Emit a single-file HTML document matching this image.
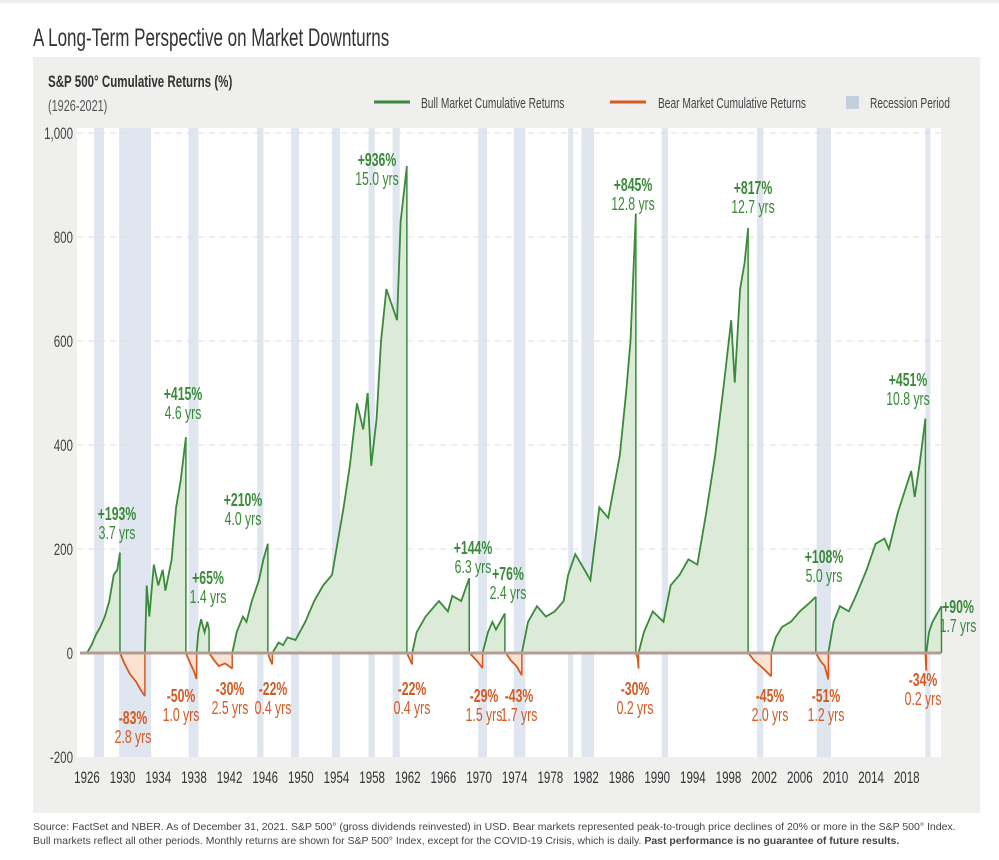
<!DOCTYPE html>
<html><head><meta charset="utf-8">
<style>
html,body{margin:0;padding:0;background:#fff;}
svg{display:block;font-family:"Liberation Sans",sans-serif;}
</style></head>
<body>
<svg id="chart" width="999" height="860" viewBox="0 0 999 860" xmlns="http://www.w3.org/2000/svg">
<rect x="0" y="0" width="999" height="3" fill="#eee"/>
<text class="c" x="33" y="46" font-size="25" fill="#333">A Long-Term Perspective on Market Downturns</text>
<rect x="33" y="57" width="947" height="756" fill="#efefed"/>
<rect x="77" y="128" width="864" height="629" fill="#fff"/>
<text class="c" x="48" y="87" font-size="17" font-weight="bold" fill="#333">S&amp;P 500° Cumulative Returns (%)</text>
<text class="c" x="48" y="111" font-size="16" fill="#555">(1926-2021)</text>
<g>
<line x1="374" y1="102" x2="410" y2="102" stroke="#3a8a3a" stroke-width="3"/>
<text class="c" x="421" y="108" font-size="15" fill="#444">Bull Market Cumulative Returns</text>
<line x1="610" y1="102" x2="646" y2="102" stroke="#d45a24" stroke-width="3"/>
<text class="c" x="658" y="108" font-size="15" fill="#444">Bear Market Cumulative Returns</text>
<rect x="846" y="96" width="13" height="13" fill="#c4cfdc"/>
<text class="c" x="870" y="108" font-size="15" fill="#444">Recession Period</text>
</g>
<g id="rec"></g><g id="grid"></g><g id="areas"></g><g id="lines"></g><g id="axes"></g><g id="labels"></g>
<text x="33" y="830" font-size="10.5" fill="#444">Source: FactSet and NBER.  As of December 31, 2021. S&amp;P 500° (gross dividends reinvested) in USD. Bear markets represented peak-to-trough price declines of 20% or more in the S&amp;P 500° Index.</text>
<text x="33" y="844" font-size="10.5" fill="#444">Bull markets reflect all other periods. Monthly returns are shown for S&amp;P 500° Index, except for the COVID-19 Crisis, which is daily. <tspan font-weight="bold">Past performance is no guarantee of future results.</tspan></text>
</svg>
<script>
const yTicks=[1000,800,600,400,200,0,-200];
const yTickLabels=["1,000","800","600","400","200","0","-200"];
const xTicks=[1926,1930,1934,1938,1942,1946,1950,1954,1958,1962,1966,1970,1974,1978,1982,1986,1990,1994,1998,2002,2006,2010,2014,2018];
const recStart=[1926.8,1929.6,1937.4,1945.1,1948.9,1953.5,1957.6,1960.3,1969.9,1973.9,1980.0,1981.5,1990.5,2001.2,2007.9,2020.1];
const recEnd=[1927.9,1933.2,1938.5,1945.8,1949.8,1954.4,1958.3,1961.1,1970.9,1975.2,1980.5,1982.9,1991.2,2001.9,2009.5,2020.4];
const bullYears=[
[1926.0,1926.5,1927.0,1927.5,1928.0,1928.5,1929.0,1929.4,1929.7],
[1932.5,1932.7,1933.0,1933.5,1934.0,1934.5,1934.8,1935.5,1936.0,1936.5,1937.1],
[1938.3,1938.5,1938.8,1939.2,1939.5,1939.7],
[1942.3,1942.8,1943.5,1943.9,1944.5,1945.3,1945.8,1946.3],
[1946.8,1947.5,1948.0,1948.5,1949.4,1950.5,1951.5,1952.5,1953.5,1954.8,1955.5,1956.3,1957.0,1957.5,1957.9,1958.5,1959.0,1959.6,1960.8,1961.2,1961.9],
[1962.5,1963.0,1964.0,1965.5,1966.5,1967.0,1968.0,1968.9],
[1970.4,1971.0,1971.5,1971.9,1972.9],
[1974.8,1975.5,1976.5,1977.5,1978.5,1979.5,1980.0,1980.8,1981.5,1982.5,1983.5,1984.5,1985.8,1986.5,1987.0,1987.6],
[1987.9,1988.5,1989.5,1990.7,1991.5,1992.5,1993.5,1994.5,1995.5,1996.5,1997.5,1998.3,1998.7,1999.3,1999.8,2000.2],
[2002.8,2003.3,2004.0,2005.0,2006.0,2007.0,2007.8],
[2009.2,2009.8,2010.5,2011.5,2012.3,2013.5,2014.5,2015.5,2016.0,2017.0,2018.5,2018.9,2019.5,2020.1],
[2020.2,2020.5,2020.9,2021.9]];
const bullValues=[
[0,15,35,50,70,100,150,160,193],
[0,130,70,170,130,160,120,180,280,330,415],
[0,40,65,40,60,45],
[0,40,70,60,100,140,180,210],
[0,20,15,30,25,60,100,130,150,280,360,480,430,500,360,450,600,700,640,830,936],
[0,40,70,100,80,110,100,144],
[0,40,60,45,76],
[0,60,90,70,80,100,150,190,170,140,280,260,380,500,600,845],
[0,40,80,60,130,150,180,170,270,380,520,640,520,700,750,817],
[0,30,50,60,80,95,108],
[0,60,90,80,110,160,210,220,200,270,350,300,370,451],
[0,40,60,90]];
const bearYears=[
[1929.7,1930.2,1930.8,1931.5,1932.0,1932.5],
[1937.1,1937.6,1938.0,1938.3],
[1939.7,1940.3,1940.8,1941.5,1942.3],
[1946.3,1946.6,1946.8],
[1961.9,1962.3,1962.5],
[1968.9,1969.5,1970.0,1970.4],
[1973.0,1973.6,1974.2,1974.8],
[1987.6,1987.8,1987.9],
[2000.2,2000.9,2001.6,2002.2,2002.8],
[2007.8,2008.3,2008.8,2009.2],
[2020.1,2020.15,2020.2]];
const bearValues=[
[0,-20,-40,-55,-70,-83],
[0,-20,-35,-50],
[0,-15,-25,-20,-30],
[0,-15,-22],
[0,-15,-22],
[0,-10,-20,-29],
[0,-15,-25,-43],
[0,-10,-30],
[0,-15,-25,-35,-45],
[0,-15,-25,-51],
[0,-20,-34]];
const bullLabelPct=["+193%","+415%","+65%","+210%","+936%","+144%","+76%","+845%","+817%","+108%","+451%","+90%"];
const bullLabelDur=["3.7 yrs","4.6 yrs","1.4 yrs","4.0 yrs","15.0 yrs","6.3 yrs","2.4 yrs","12.8 yrs","12.7 yrs","5.0 yrs","10.8 yrs","1.7 yrs"];
const bullLabelPos=[[117,520],[183,400],[208,584],[243,506],[377,166],[473,554],[508,580],[633,191],[753,194],[824,563],[908,386],[958,613]];
const bearLabelPct=["-83%","-50%","-30%","-22%","-22%","-29%","-43%","-30%","-45%","-51%","-34%"];
const bearLabelDur=["2.8 yrs","1.0 yrs","2.5 yrs","0.4 yrs","0.4 yrs","1.5 yrs","1.7 yrs","0.2 yrs","2.0 yrs","1.2 yrs","0.2 yrs"];
const bearLabelPos=[[133,724],[181,702],[230,695],[273,695],[412,695],[484,702],[519,702],[635,695],[770,702],[826,702],[923,686]];

const NS="http://www.w3.org/2000/svg";
const X=yr=>87+(yr-1926)*8.91;
const Y=v=>653-v*0.52;
function mk(tag,attrs,parent){const e=document.createElementNS(NS,tag);for(const k in attrs)e.setAttribute(k,attrs[k]);document.getElementById(parent).appendChild(e);return e;}
recStart.forEach((s,i)=>{
  const r=mk('rect',{x:X(s),y:128,width:Math.max(X(recEnd[i])-X(s),5),height:629,fill:'#dfe6ef'},'rec');
  
  
});
yTicks.forEach((t,i)=>{
  if(t>0){const g=mk('line',{x1:77,x2:941,y1:Y(t),y2:Y(t),stroke:'#ddd','stroke-dasharray':'6,5'},'grid');
  
  }
  const tx=mk('text',{x:73,y:Y(t)+6,'text-anchor':'end','font-size':17,fill:'#444',class:'c'},'axes');
  tx.textContent=yTickLabels[i];
  
  
});
xTicks.forEach(t=>{
  const tx=mk('text',{x:X(t),y:783,'text-anchor':'middle','font-size':17,fill:'#333',class:'c'},'axes');
  tx.textContent=t;
  
  
});
function series(ys,vs,fill,stroke,nm){
  ys.forEach((arr,i)=>{
    const pts=arr.map((y,j)=>X(y)+','+Y(vs[i][j])).join(' ');
    const a=mk('polygon',{points:X(arr[0])+','+Y(0)+' '+pts+' '+X(arr[arr.length-1])+','+Y(0),fill:fill},'areas');
    
    
    const l=mk('polyline',{points:pts,fill:'none',stroke:stroke,'stroke-width':1.8},'lines');
    
    
    const d=mk('line',{x1:X(arr[arr.length-1]),x2:X(arr[arr.length-1]),y1:Y(vs[i][vs[i].length-1]),y2:Y(0),stroke:stroke,'stroke-width':1.5},'lines');
    
    
  });
}
series(bullYears,bullValues,'#dcebd7','#3a8a3a','bull');
series(bearYears,bearValues,'#fbe2d2','#d45a24','bear');
const z=mk('line',{x1:80,x2:941,y1:Y(0),y2:Y(0),stroke:'#b49c94','stroke-width':3},'lines');


function labels(pos,pct,dur,col,nm){
  pos.forEach((p,i)=>{
    const a=mk('text',{x:p[0],y:p[1],'text-anchor':'middle','font-size':18,'font-weight':'bold',fill:col,class:'c'},'labels');
    a.textContent=pct[i];
    
    
    const b=mk('text',{x:p[0],y:p[1]+19,'text-anchor':'middle','font-size':18,fill:col,class:'c'},'labels');
    b.textContent=dur[i];
    
    
  });
}
labels(bullLabelPos,bullLabelPct,bullLabelDur,'#3a8a3a','bull');
labels(bearLabelPos,bearLabelPct,bearLabelDur,'#d45a24','bear');
document.querySelectorAll('text.c').forEach(t=>{
  const w=t.getComputedTextLength();
  t.setAttribute('textLength',(w*0.68).toFixed(1));
  t.setAttribute('lengthAdjust','spacingAndGlyphs');
});
</script>
</body></html>
